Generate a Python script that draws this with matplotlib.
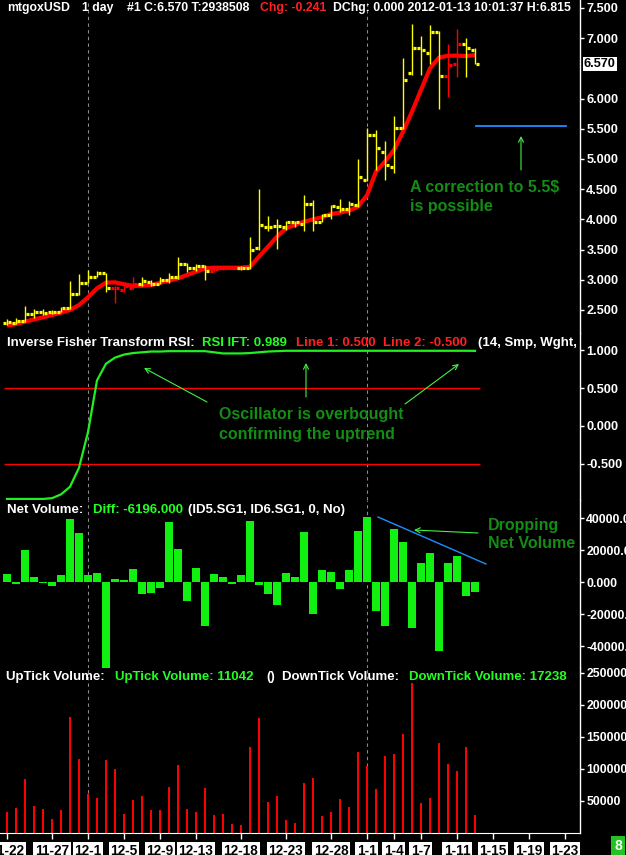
import numpy as np
import matplotlib
matplotlib.use('Agg')
import matplotlib.pyplot as plt
from matplotlib.lines import Line2D
import pandas as pd

plt.rcParams['font.family'] = ['Liberation Sans', 'DejaVu Sans']
plt.rcParams['font.weight'] = 'bold'

# ---------------- data ----------------
dates = pd.date_range('2011-11-22', '2012-01-13', freq='D')

opens = [2.28, 2.28, 2.31, 2.43, 2.47, 2.46, 2.47, 2.53, 2.76, 2.95,
         3.05, 3.11, 2.87, 2.83, 2.87, 2.93, 2.96, 2.93, 2.99, 3.05,
         3.26, 3.19, 3.23, 3.15, 3.19, 3.19, 3.19, 3.19, 3.52, 3.88,
         3.89, 3.87, 3.95, 3.93, 4.25, 3.96, 4.07, 4.20, 4.17, 4.23,
         4.66, 5.40, 5.12, 4.86, 5.52, 6.42, 6.83, 6.75, 7.10, 6.37,
         6.57, 6.90, 6.81]
highs = [2.35, 2.36, 2.57, 2.52, 2.52, 2.50, 2.55, 2.98, 3.10, 3.16,
         3.15, 3.12, 2.89, 2.94, 3.04, 3.04, 3.00, 3.04, 3.12, 3.37,
         3.28, 3.26, 3.24, 3.21, 3.23, 3.20, 3.22, 3.71, 4.50, 4.05,
         4.00, 3.97, 3.98, 4.40, 4.32, 4.09, 4.24, 4.33, 4.30, 5.00,
         5.51, 5.48, 5.30, 5.71, 6.68, 7.23, 7.03, 7.22, 7.12, 6.90,
         7.15, 7.01, 6.84]
lows = [2.25, 2.27, 2.30, 2.37, 2.42, 2.43, 2.46, 2.52, 2.75, 2.94,
        3.04, 2.80, 2.61, 2.80, 2.84, 2.90, 2.90, 2.93, 2.95, 3.01,
        3.13, 3.14, 3.00, 3.13, 3.17, 3.18, 3.16, 3.18, 3.49, 3.81,
        3.51, 3.82, 3.88, 3.80, 3.81, 3.95, 4.00, 4.13, 4.08, 4.21,
        4.64, 4.81, 4.66, 4.76, 5.50, 6.39, 6.39, 6.58, 5.83, 6.02,
        6.36, 6.36, 6.57]
closes = [2.30, 2.32, 2.43, 2.47, 2.455, 2.47, 2.53, 2.76, 2.95, 3.05,
          3.11, 2.86, 2.86, 2.90, 2.93, 2.98, 2.93, 2.99, 3.05, 3.26,
          3.19, 3.23, 3.14, 3.18, 3.19, 3.19, 3.19, 3.50, 3.91, 3.88,
          3.89, 3.95, 3.95, 4.25, 3.96, 4.07, 4.22, 4.17, 4.25, 4.70,
          5.40, 5.19, 4.90, 5.52, 6.30, 6.83, 6.80, 7.10, 6.37, 6.55,
          6.90, 6.83, 6.57]
bar_side = list("YYYYYYYYYYYYRRRYYYYYYYYRRRYYYYYYYYYYYYYYYYYYYYYYYRRYY")

moving_avg = [2.24, 2.268, 2.306, 2.345, 2.378, 2.417, 2.455, 2.50, 2.582, 2.71,
              2.858, 2.952, 2.958, 2.925, 2.90, 2.90, 2.913, 2.952, 2.985, 3.024,
              3.079, 3.134, 3.19, 3.20, 3.20, 3.20, 3.20, 3.217, 3.383, 3.548,
              3.714, 3.852, 3.907, 3.962, 4.00, 4.034, 4.089, 4.111, 4.144, 4.21,
              4.40, 4.79, 4.956, 5.149, 5.45, 5.783, 6.142, 6.501, 6.678, 6.71,
              6.71, 6.705, 6.72]

rsi_ift = [-0.96, -0.96, -0.96, -0.96, -0.96, -0.95, -0.90, -0.80, -0.55, -0.08,
           0.60, 0.82, 0.90, 0.94, 0.96, 0.97, 0.98, 0.98, 0.985, 0.985,
           0.985, 0.985, 0.985, 0.97, 0.955, 0.955, 0.955, 0.96, 0.97, 0.98,
           0.985, 0.99, 0.99, 0.99, 0.99, 0.99, 0.99, 0.99, 0.99, 0.99,
           0.99, 0.99, 0.99, 0.99, 0.99, 0.99, 0.99, 0.99, 0.99, 0.99,
           0.99, 0.99, 0.989]

net_volume = [5000, -1250, 20000, 3300, -800, -2300, 4400, 39400, 30600, 4400,
              5600, -53500, 1900, 1250, 8100, -7500, -6900, -3500, 37500, 20600,
              -11700, 8750, -27300, 5000, 3100, -1250, 4400, 38100, -1900, -7500,
              -14200, 5600, 3100, 31200, -19800, 7300, 6250, -4200, 7500, 31900,
              40600, -18100, -27300, 33100, 25000, -29000, 11900, 17900, -42900, 11900,
              16250, -8500, -6196]

uptick_volume = [33300, 39000, 84400, 42200, 37500, 21900, 35900, 181200, 115600, 60900,
                 54700, 114000, 100000, 29700, 51600, 57800, 35900, 35900, 71900, 106200,
                 37500, 32800, 70300, 28100, 29700, 14100, 12500, 134400, 179700, 48400,
                 57800, 20300, 15600, 78100, 85900, 26600, 32800, 53100, 40600, 126600,
                 104700, 68700, 120300, 123400, 154700, 233800, 46900, 54700, 140600, 107800,
                 96900, 134400, 28100]

tick_dates = ['2011-11-22', '2011-11-27', '2011-12-01', '2011-12-05', '2011-12-09',
              '2011-12-13', '2011-12-18', '2011-12-23', '2011-12-28', '2012-01-01',
              '2012-01-04', '2012-01-07', '2012-01-11', '2012-01-15', '2012-01-19',
              '2012-01-23']
tick_labels = ['11-22', '11-27', '12-1', '12-5', '12-9', '12-13', '12-18', '12-23',
               '12-28', '1-1', '1-4', '1-7', '1-11', '1-15', '1-19', '1-23']
month_starts = ['2011-12-01', '2012-01-01']

price_ticks = [7.5, 7.0, 6.0, 5.5, 5.0, 4.5, 4.0, 3.5, 3.0, 2.5]
rsi_ticks = [1.0, 0.5, 0.0, -0.5]
rsi_levels = [0.5, -0.5]
net_ticks = [40000, 20000, 0, -20000, -40000]
net_tick_labels = ['40000.0', '20000.0', '0.000', '-20000.', '-40000.']
vol_ticks = [50000, 100000, 150000, 200000, 250000]

# ---------------- layout ----------------
W, H = 626, 855
fig = plt.figure(figsize=(W / 100, H / 100), dpi=100, facecolor='black')


def axrect(top, bottom):
    return [0, 1 - bottom / H, 580 / W, (bottom - top) / H]


def F(x, y):
    return (x / W, 1 - y / H)


ax1 = fig.add_axes(axrect(0, 333))
ax2 = fig.add_axes(axrect(333, 500))
ax3 = fig.add_axes(axrect(500, 668))
ax4 = fig.add_axes(axrect(668, 833))
axes = [ax1, ax2, ax3, ax4]

x = np.arange(len(dates))
day0 = dates[0]
tick_pos = [(pd.Timestamp(t) - day0).days for t in tick_dates]
vlines_pos = [(pd.Timestamp(t) - day0).days for t in month_starts]

for ax in axes:
    ax.set_facecolor('black')
    ax.set_xlim(-0.778, 63.67)
    for s in ['top', 'left', 'bottom']:
        ax.spines[s].set_visible(False)
    ax.spines['right'].set_color('white')
    ax.spines['right'].set_linewidth(1.0)
    ax.yaxis.tick_right()
    ax.tick_params(axis='y', colors='white', length=3, width=1, pad=1.5,
                   labelsize=9.2)
    ax.tick_params(axis='x', bottom=False, labelbottom=False)
    for v in vlines_pos:
        ax.axvline(v, color='#8a8a8a', lw=0.8, ls=(0, (3, 3)), zorder=1)

# price panel
ax1.set_ylim(2.119, 7.632)
ax1.plot(x, moving_avg, color='#ff0000', lw=3.0, zorder=2, solid_capstyle='butt')
for i in x:
    c = '#ffff00' if bar_side[i] == 'Y' else '#ff0000'
    ax1.vlines(i, lows[i], highs[i], color=c, lw=1.0, zorder=3)
    ax1.hlines(opens[i], i - 0.42, i - 0.06, color=c, lw=2.3, zorder=3)
    ax1.hlines(closes[i], i + 0.06, i + 0.42, color=c, lw=2.3, zorder=3)
ax1.set_yticks(price_ticks)
ax1.set_yticklabels(['%.3f' % v for v in price_ticks])

# RSI panel
ax2.set_ylim(-0.974, 1.224)
ax2.hlines(rsi_levels, x[0] - 0.35, x[-1] + 0.6, color='#ff0000', lw=1.0, zorder=2)
ax2.plot(x, rsi_ift, color='#22ee22', lw=1.6, zorder=3)
ax2.set_yticks(rsi_ticks)
ax2.set_yticklabels(['%.3f' % v for v in rsi_ticks])

# Net volume panel
ax3.set_ylim(-53750, 51250)
ax3.bar(x, net_volume, width=0.88, color='#11f011', zorder=2)
ax3.set_yticks(net_ticks)
ax3.set_yticklabels(net_tick_labels)
ax3.tick_params(axis='y', labelsize=8.8)

# Volume panel
ax4.set_ylim(0, 257800)
ax4.bar(x, uptick_volume, width=0.24, color='#ff0000', zorder=2)
ax4.set_yticks(vol_ticks)
ax4.set_yticklabels(['%d' % v for v in vol_ticks])
ax4.tick_params(axis='y', labelsize=8.8)
ax4.spines['bottom'].set_visible(True)
ax4.spines['bottom'].set_color('white')
ax4.set_xticks(tick_pos)
ax4.set_xticklabels(tick_labels)
ax4.tick_params(axis='x', bottom=True, labelbottom=True, colors='white',
                labelcolor='black', length=4, width=1, pad=4, labelsize=9.8)
for lbl in ax4.get_xticklabels():
    lbl.set_bbox(dict(facecolor='white', edgecolor='none', pad=1.2))

# ---------------- texts ----------------
WHITE = 'white'
GREEN = '#22ff22'
RED = '#ff2020'
ANN = '#158c15'
fs = 9.5


def ftext(px, py, s, color, size=fs, **kw):
    fig.text(px / W, 1 - py / H, s, color=color, fontsize=size, ha='left',
             va='center', **kw)


hs = 8.8
ftext(7, 8, 'mtgoxUSD', WHITE, size=hs)
ftext(82, 8, '1 day', WHITE, size=hs)
ftext(127, 8, '#1 C:6.570 T:2938508', WHITE, size=hs)
ftext(260, 8, 'Chg: -0.241', RED, size=hs)
ftext(333, 8, 'DChg: 0.000 2012-01-13 10:01:37 H:6.815', WHITE, size=hs)

ftext(7, 343, 'Inverse Fisher Transform RSI:', WHITE)
ftext(202, 343, 'RSI IFT: 0.989', GREEN)
ftext(296, 343, 'Line 1: 0.500', RED)
ftext(383, 343, 'Line 2: -0.500', RED)
ftext(478, 343, '(14, Smp, Wght,', WHITE)

ftext(7, 510, 'Net Volume:', WHITE)
ftext(93, 510, 'Diff: -6196.000', GREEN)
ftext(188, 510, '(ID5.SG1, ID6.SG1, 0, No)', WHITE)

ftext(6, 677, 'UpTick Volume:', WHITE)
ftext(115, 677, 'UpTick Volume: 11042', GREEN)
ftext(266, 677, '()', WHITE)
ftext(282, 677, 'DownTick Volume:', WHITE)
ftext(409, 677, 'DownTick Volume: 17238', GREEN)

# current price box
ftext(584, 64, '6.570', 'black', size=9.2,
      bbox=dict(facecolor='white', edgecolor='none', pad=0.8))
# green corner box
fig.text(618 / W, 1 - 846 / H, '8', color='white', fontsize=10, ha='center',
         va='center', bbox=dict(facecolor='#22c322', edgecolor='none', pad=2.5))

# ---------------- annotations ----------------
arrow_kw = dict(arrowstyle='->', color='#44f044', lw=0.8, mutation_scale=9,
                shrinkA=0, shrinkB=0)

# price panel
fig.add_artist(Line2D([476 / W, 566 / W], [1 - 126 / H] * 2,
                      transform=fig.transFigure, color='#1e8fff', lw=1.3))
ax1.annotate('', xy=F(521, 136), xytext=F(521, 170), xycoords='figure fraction',
             textcoords='figure fraction', arrowprops=arrow_kw)
ftext(410, 187, 'A correction to 5.5$', ANN, size=11.5)
ftext(410, 206, 'is possible', ANN, size=11.5)

# RSI panel
for (x0, y0, x1, y1) in [(207, 402, 144, 368), (306, 397, 306, 363), (405, 404, 459, 364)]:
    ax2.annotate('', xy=F(x1, y1), xytext=F(x0, y0), xycoords='figure fraction',
                 textcoords='figure fraction', arrowprops=arrow_kw)
ftext(219, 414, 'Oscillator is overbought', ANN, size=11.5)
ftext(219, 434, 'confirming the uptrend', ANN, size=11.5)

# Net volume panel
fig.add_artist(Line2D([378 / W, 486 / W], [1 - 517 / H, 1 - 564 / H],
                      transform=fig.transFigure, color='#1e8fff', lw=1.0))
ax3.annotate('', xy=F(414, 530), xytext=F(478, 533), xycoords='figure fraction',
             textcoords='figure fraction', arrowprops=arrow_kw)
ftext(488, 525, 'Dropping', ANN, size=11.5)
ftext(488, 543, 'Net Volume', ANN, size=11.5)

fig.savefig('out.png', dpi=100, facecolor='black')
